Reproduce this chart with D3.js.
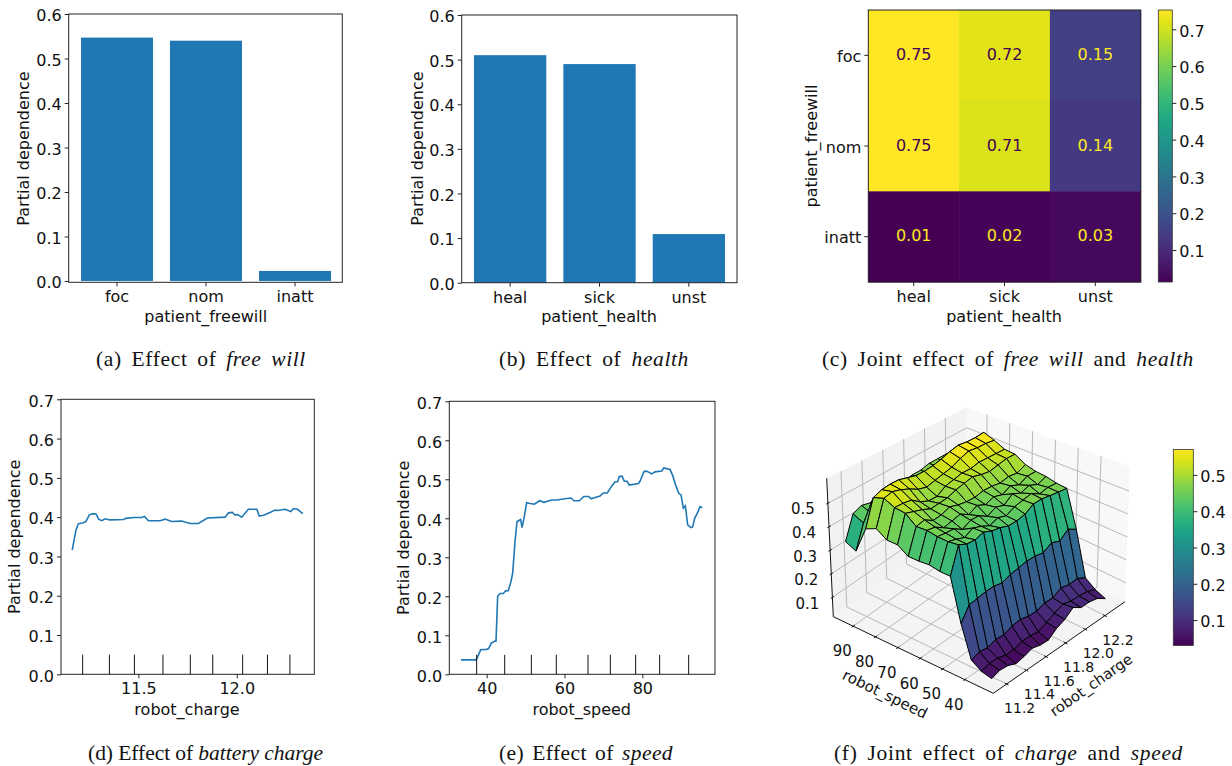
<!DOCTYPE html>
<html lang="en">
<head>
<meta charset="UTF-8">
<title>Partial dependence plots</title>
<style>
  body { margin: 0; background: #fff; }
  svg { display: block; }
  text { font-family: "DejaVu Sans", sans-serif; fill: #111; }
  .tick text { font-size: 16px; font-family: "DejaVu Sans", sans-serif; }
  .tick line, .domain { stroke: #222; }
  .caption { font-family: "Liberation Serif", serif; font-size: 21.5px; }
</style>
</head>
<body>
<div id="chart"></div>
<script src="https://d3js.org/d3.v7.min.js"></script>
<script>
// panel a / b bars
const freewillCats = ["foc", "nom", "inatt"];
const freewillVals = [0.547, 0.54, 0.0225];
const healthCats = ["heal", "sick", "unst"];
const healthVals = [0.51, 0.49, 0.109];

// panel c heatmap, rows are freewill, columns are health
const jointHealth = [
  [0.75, 0.72, 0.15],
  [0.75, 0.71, 0.14],
  [0.013, 0.02, 0.03]
];
const jointLabels = [
  ["0.75", "0.72", "0.15"],
  ["0.75", "0.71", "0.14"],
  ["0.01", "0.02", "0.03"]
];

// panel d
const chargeX = [11.164, 11.183, 11.195, 11.22, 11.234, 11.251, 11.271, 11.285, 11.298, 11.314, 11.331, 11.356, 11.424, 11.437, 11.475, 11.517, 11.531, 11.551, 11.61, 11.636, 11.669, 11.72, 11.763, 11.805, 11.851, 11.941, 11.958, 11.978, 11.992, 12.003, 12.025, 12.059, 12.102, 12.114, 12.136, 12.169, 12.195, 12.207, 12.246, 12.275, 12.288, 12.308, 12.336];
const chargeY = [0.316, 0.367, 0.383, 0.386, 0.389, 0.406, 0.409, 0.408, 0.395, 0.391, 0.396, 0.393, 0.394, 0.397, 0.399, 0.399, 0.402, 0.391, 0.391, 0.395, 0.389, 0.39, 0.384, 0.384, 0.398, 0.4, 0.411, 0.412, 0.405, 0.407, 0.4, 0.42, 0.42, 0.403, 0.405, 0.412, 0.418, 0.417, 0.42, 0.414, 0.422, 0.42, 0.409];
const chargeDeciles = [11.217, 11.353, 11.48, 11.625, 11.764, 11.878, 12.03, 12.156, 12.27];

// panel e
const speedX = [33.4, 37.26, 37.6, 38.46, 40, 40.5, 41.2, 42.14, 42.4, 42.83, 43.43, 44.28, 44.88, 45.57, 46.17, 46.68, 47.28, 47.79, 48.39, 48.74, 49.08, 49.59, 50.28, 51.13, 52.25, 53.62, 54.73, 56.7, 57.99, 60.13, 61.67, 62.44, 63.81, 64.93, 66.21, 66.81, 69.12, 69.98, 71, 72.29, 72.98, 73.66, 74.09, 74.78, 75.37, 76.06, 76.66, 78.97, 79.4, 80.43, 81.11, 82.4, 83.25, 84.97, 85.48, 87.11, 87.79, 88.56, 89.34, 89.94, 90.54, 91.05, 91.65, 92.51, 92.93, 93.45, 94.13, 94.82, 95.42];
const speedY = [0.037, 0.037, 0.043, 0.063, 0.064, 0.066, 0.08, 0.085, 0.085, 0.2, 0.207, 0.207, 0.214, 0.215, 0.235, 0.259, 0.34, 0.391, 0.395, 0.397, 0.376, 0.4, 0.44, 0.438, 0.436, 0.445, 0.441, 0.447, 0.447, 0.45, 0.452, 0.445, 0.445, 0.456, 0.456, 0.45, 0.457, 0.465, 0.465, 0.485, 0.493, 0.494, 0.507, 0.508, 0.495, 0.495, 0.485, 0.489, 0.495, 0.52, 0.521, 0.514, 0.519, 0.521, 0.529, 0.525, 0.51, 0.485, 0.464, 0.46, 0.426, 0.432, 0.383, 0.376, 0.378, 0.4, 0.413, 0.43, 0.427];
const speedDeciles = [37.43, 44.63, 51.48, 57.9, 66.04, 71.78, 78.29, 84.45, 91.9];

// panel f surface, one row per speedGrid value, one column per chargeGrid value
const speedGrid = [30.6, 35.2, 39.7, 44.3, 48.9, 53.5, 58.1, 62.6, 67.2, 71.8, 76.4, 80.9, 85.5, 90.1, 94.6];
const chargeGrid = [11.122, 11.204, 11.286, 11.369, 11.451, 11.533, 11.616, 11.698, 11.78, 11.862, 11.945, 12.027, 12.11, 12.192, 12.275];
const surfaceZ = [
  [0.043, 0.053, 0.05, 0.037, 0.043, 0.053, 0.044, 0.042, 0.066, 0.08, 0.106, 0.084, 0.085, 0.077, 0.053],
  [0.052, 0.06, 0.06, 0.05, 0.05, 0.06, 0.06, 0.055, 0.07, 0.085, 0.1, 0.09, 0.09, 0.085, 0.07],
  [0.075, 0.086, 0.08, 0.091, 0.088, 0.1, 0.105, 0.097, 0.095, 0.107, 0.106, 0.125, 0.117, 0.12, 0.1],
  [0.19, 0.24, 0.246, 0.253, 0.255, 0.249, 0.263, 0.27, 0.278, 0.279, 0.273, 0.295, 0.282, 0.313, 0.292],
  [0.348, 0.448, 0.435, 0.435, 0.448, 0.436, 0.432, 0.422, 0.425, 0.435, 0.46, 0.464, 0.46, 0.457, 0.455],
  [0.352, 0.447, 0.44, 0.43, 0.45, 0.44, 0.425, 0.44, 0.43, 0.45, 0.46, 0.47, 0.45, 0.46, 0.46],
  [0.363, 0.453, 0.45, 0.45, 0.43, 0.45, 0.45, 0.43, 0.45, 0.44, 0.47, 0.455, 0.47, 0.455, 0.472],
  [0.363, 0.464, 0.46, 0.44, 0.45, 0.46, 0.44, 0.46, 0.445, 0.46, 0.45, 0.47, 0.455, 0.475, 0.477],
  [0.367, 0.466, 0.475, 0.455, 0.46, 0.475, 0.465, 0.46, 0.46, 0.47, 0.47, 0.465, 0.475, 0.47, 0.49],
  [0.398, 0.505, 0.495, 0.485, 0.47, 0.475, 0.48, 0.495, 0.505, 0.515, 0.505, 0.5, 0.51, 0.52, 0.52],
  [0.403, 0.515, 0.515, 0.51, 0.485, 0.47, 0.47, 0.495, 0.505, 0.515, 0.515, 0.525, 0.525, 0.525, 0.525],
  [0.435, 0.54, 0.55, 0.54, 0.525, 0.505, 0.495, 0.505, 0.515, 0.525, 0.545, 0.56, 0.555, 0.555, 0.55],
  [0.42, 0.53, 0.545, 0.55, 0.55, 0.54, 0.53, 0.53, 0.535, 0.545, 0.56, 0.57, 0.565, 0.565, 0.57],
  [0.313, 0.41, 0.43, 0.44, 0.45, 0.45, 0.45, 0.45, 0.46, 0.46, 0.47, 0.47, 0.47, 0.47, 0.47],
  [0.337, 0.434, 0.45, 0.44, 0.45, 0.45, 0.45, 0.45, 0.46, 0.46, 0.47, 0.47, 0.47, 0.47, 0.47]
];
const speedTicks3d = [40, 50, 60, 70, 80, 90];
const chargeTicks3d = [11.2, 11.4, 11.6, 11.8, 12.0, 12.2];
const zTicks3d = [0.1, 0.2, 0.3, 0.4, 0.5];

const BLUE = "#1f77b4";
const svg = d3.select("#chart").append("svg").attr("width", 1232).attr("height", 766);

function label(txt, x, y, rotate, size) {
  const t = svg.append("text")
    .attr("text-anchor", "middle")
    .attr("dy", "0.35em")
    .style("font-size", (size || 16) + "px")
    .text(txt);
  t.attr("transform", `translate(${x},${y})` + (rotate ? ` rotate(${rotate})` : ""));
  return t;
}

function styleAxis(g) {
  g.selectAll(".tick line").attr("stroke-width", 1);
  g.selectAll(".domain").remove();
}

// side axes sit a little lower than d3 puts them by default
function styleSide(g) {
  styleAxis(g);
  g.selectAll(".tick text").attr("dy", "0.42em");
}

function frame(box) {
  svg.append("rect")
    .attr("x", box.left).attr("y", box.top)
    .attr("width", box.right - box.left).attr("height", box.bottom - box.top)
    .attr("fill", "none").attr("stroke", "#222").attr("stroke-width", 1);
}

function barPanel(cats, vals, box, yMin, bandRange, yLabelX) {
  const x = d3.scaleBand().domain(cats).range(bandRange).paddingInner(17 / 89).paddingOuter(0);
  const y = d3.scaleLinear().domain([yMin, 0.6]).range([box.bottom, box.top]);
  svg.append("g").selectAll("rect").data(cats).join("rect")
    .attr("x", d => x(d))
    .attr("width", x.bandwidth())
    .attr("y", (d, i) => y(vals[i]))
    .attr("height", (d, i) => y(0) - y(vals[i]))
    .attr("fill", BLUE);
  frame(box);
  svg.append("g").attr("transform", `translate(${box.left},0)`)
    .call(d3.axisLeft(y).tickValues(d3.range(0, 7).map(d => d / 10)).tickFormat(d3.format(".1f")).tickSize(4).tickPadding(3))
    .call(styleSide);
  svg.append("g").attr("transform", `translate(0,${box.bottom})`)
    .call(d3.axisBottom(x).tickSize(4).tickPadding(4.5))
    .call(styleAxis);
  label("Partial dependence", yLabelX, 148.5, -90);
}

barPanel(freewillCats, freewillVals, { left: 68.7, right: 342.3, top: 14, bottom: 282.3 }, -0.003, [81, 331], 23);
label("patient_freewill", 205.7, 316);
barPanel(healthCats, healthVals, { left: 461.7, right: 737, top: 15, bottom: 282.7 }, 0, [474, 725], 417);
label("patient_health", 599, 316);

// heatmap
const heatBox = { left: 868.3, right: 1140.7, top: 10, bottom: 282 };
const heatX = d3.scaleBand().domain(healthCats).range([heatBox.left, heatBox.right]);
const heatY = d3.scaleBand().domain(freewillCats).range([heatBox.top, heatBox.bottom]);
const heatColor = d3.scaleSequential(d3.interpolateViridis).domain([0.013, 0.7525]);
freewillCats.forEach((rowName, r) => {
  healthCats.forEach((colName, c) => {
    const v = jointHealth[r][c];
    svg.append("rect")
      .attr("x", heatX(colName)).attr("y", heatY(rowName))
      .attr("width", heatX.bandwidth() + 0.5).attr("height", heatY.bandwidth() + 0.5)
      .attr("fill", heatColor(v));
    label(jointLabels[r][c], heatX(colName) + heatX.bandwidth() / 2, heatY(rowName) + heatY.bandwidth() / 2 - 1)
      .style("fill", v > 0.38 ? "#440154" : "#fde725");
  });
});
frame(heatBox);
svg.append("g").attr("transform", `translate(${heatBox.left},0)`)
  .call(d3.axisLeft(heatY).tickSize(4).tickPadding(3)).call(styleSide);
svg.append("g").attr("transform", `translate(0,${heatBox.bottom})`)
  .call(d3.axisBottom(heatX).tickSize(4).tickPadding(4.5)).call(styleAxis);
label("patient_health", 1004, 316);
label("patient_freewill", 811, 146, -90);

// colorbars
const defs = svg.append("defs");
function colorbar(id, domain, box, ticks) {
  const grad = defs.append("linearGradient").attr("id", id)
    .attr("x1", 0).attr("x2", 0).attr("y1", 1).attr("y2", 0);
  d3.range(0, 21).forEach(i => {
    grad.append("stop").attr("offset", i / 20).attr("stop-color", d3.interpolateViridis(i / 20));
  });
  svg.append("rect")
    .attr("x", box.left).attr("y", box.top)
    .attr("width", box.right - box.left).attr("height", box.bottom - box.top)
    .attr("fill", `url(#${id})`).attr("stroke", "#333").attr("stroke-width", 0.8);
  const y = d3.scaleLinear().domain(domain).range([box.bottom, box.top]);
  svg.append("g").attr("transform", `translate(${box.right},0)`)
    .call(d3.axisRight(y).tickValues(ticks).tickFormat(d3.format(".1f")).tickSize(4).tickPadding(3))
    .call(styleSide);
}
colorbar("cbHeat", [0.013, 0.7525], { left: 1158.3, right: 1172.3, top: 10, bottom: 282 }, [0.1, 0.2, 0.3, 0.4, 0.5, 0.6, 0.7]);
colorbar("cbSurf", [0.03, 0.57], { left: 1173.3, right: 1193.3, top: 449.5, bottom: 645.5 }, [0.1, 0.2, 0.3, 0.4, 0.5]);

// line panels
function linePanel(xs, ys, deciles, box, xDomain, xTicks, fmt, yLabelX, xLabel, xLabelX) {
  const x = d3.scaleLinear().domain(xDomain).range([box.left, box.right]);
  const y = d3.scaleLinear().domain([0, 0.7]).range([box.bottom, box.top]);
  const line = d3.line().x(d => x(d[0])).y(d => y(d[1]));
  svg.append("path").datum(d3.zip(xs, ys)).attr("d", line)
    .attr("fill", "none").attr("stroke", BLUE).attr("stroke-width", 1.6);
  svg.append("g").selectAll("line").data(deciles).join("line")
    .attr("x1", d => x(d)).attr("x2", d => x(d))
    .attr("y1", y(0)).attr("y2", y(0.05))
    .attr("stroke", "#111").attr("stroke-width", 1);
  frame(box);
  svg.append("g").attr("transform", `translate(${box.left},0)`)
    .call(d3.axisLeft(y).tickValues(d3.range(0, 8).map(d => d / 10)).tickFormat(d3.format(".1f")).tickSize(4).tickPadding(3))
    .call(styleSide);
  svg.append("g").attr("transform", `translate(0,${box.bottom})`)
    .call(d3.axisBottom(x).tickValues(xTicks).tickFormat(fmt).tickSize(4).tickPadding(4.5))
    .call(styleAxis);
  label("Partial dependence", yLabelX, (box.top + box.bottom) / 2, -90);
  label(xLabel, xLabelX, 709);
}
linePanel(chargeX, chargeY, chargeDeciles, { left: 61, right: 314.3, top: 399.3, bottom: 674.3 }, [11.107, 12.394], [11.5, 12.0], d3.format(".1f"), 14, "robot_charge", 187);
linePanel(speedX, speedY, speedDeciles, { left: 449.3, right: 715, top: 401.3, bottom: 674.3 }, [30.4, 98.67], [40, 60, 80], d3.format("d"), 403, "robot_speed", 581.7);

// 3d surface, cube corners as seen on the page, a = speed, b = charge, c = height
const corners = {
  B0: [993.3, 693.3], L0: [833.3, 616.7], R0: [1125, 601.7], K0: [966.7, 520.7],
  B1: [995, 521.7], L1: [826.7, 478.3], R1: [1130, 466.7], K1: [966.7, 407.3]
};
const speedNorm = d3.scaleLinear().domain([27.3, 98.9]).range([0, 1]);
const chargeNorm = d3.scaleLinear().domain([11.064, 12.404]).range([0, 1]);
const zNorm = d3.scaleLinear().domain([0.018, 0.606]).range([0, 1]);
function project(a, b, c) {
  const at = k => {
    const low = (1 - a) * (1 - b) * corners.B0[k] + a * (1 - b) * corners.L0[k] + (1 - a) * b * corners.R0[k] + a * b * corners.K0[k];
    const high = (1 - a) * (1 - b) * corners.B1[k] + a * (1 - b) * corners.L1[k] + (1 - a) * b * corners.R1[k] + a * b * corners.K1[k];
    return low * (1 - c) + high * c;
  };
  return [at(0), at(1)];
}
const poly = pts => pts.map(p => p.map(v => v.toFixed(2)).join(",")).join(" ");
const walls = svg.append("g");
walls.append("polygon").attr("points", poly([project(1, 0, 0), project(1, 1, 0), project(1, 1, 1), project(1, 0, 1)])).attr("fill", "#f2f2f2");
walls.append("polygon").attr("points", poly([project(1, 1, 0), project(0, 1, 0), project(0, 1, 1), project(1, 1, 1)])).attr("fill", "#f8f8f8");
walls.append("polygon").attr("points", poly([project(1, 0, 0), project(0, 0, 0), project(0, 1, 0), project(1, 1, 0)])).attr("fill", "#f4f4f4");

function seg(g, p, q, color, w) {
  g.append("line").attr("x1", p[0]).attr("y1", p[1]).attr("x2", q[0]).attr("y2", q[1])
    .attr("stroke", color).attr("stroke-width", w);
}
const GRID = "#b8b8b8";
speedTicks3d.forEach(s => {
  const a = speedNorm(s);
  seg(walls, project(a, 0, 0), project(a, 1, 0), GRID, 1);
  seg(walls, project(a, 1, 0), project(a, 1, 1), GRID, 1);
});
chargeTicks3d.forEach(s => {
  const b = chargeNorm(s);
  seg(walls, project(0, b, 0), project(1, b, 0), GRID, 1);
  seg(walls, project(1, b, 0), project(1, b, 1), GRID, 1);
});
zTicks3d.forEach(z => {
  const c = zNorm(z);
  seg(walls, project(1, 0, c), project(1, 1, c), GRID, 1);
  seg(walls, project(1, 1, c), project(0, 1, c), GRID, 1);
});
seg(walls, project(1, 0, 0), project(0, 0, 0), "#111", 1);
seg(walls, project(0, 0, 0), project(0, 1, 0), "#111", 1);
seg(walls, project(1, 0, 0), project(1, 0, 1), "#111", 1);

speedTicks3d.forEach(s => {
  const a = speedNorm(s);
  seg(walls, project(a, -0.012, 0), project(a, 0.012, 0), "#111", 1);
  const p = project(a, 0, 0);
  label(String(s), p[0] - 11, p[1] + 25, 0, 15);
});
chargeTicks3d.forEach(s => {
  const b = chargeNorm(s);
  seg(walls, project(-0.012, b, 0), project(0.012, b, 0), "#111", 1);
  const p = project(0, b, 0);
  label(s.toFixed(1), p[0] + 13, p[1] + 24, 0, 14);
});
zTicks3d.forEach(z => {
  const c = zNorm(z);
  seg(walls, project(1, -0.012, c), project(1, 0.012, c), "#111", 1);
  const p = project(1, 0, c);
  label(z.toFixed(1), p[0] - 25, p[1] + 6, 0, 15);
});
label("robot_speed", 885, 694, 26, 15);
label("robot_charge", 1091, 685, -35, 14.7);

// far cells first so the nearer ones cover them
const surfColor = d3.scaleSequential(d3.interpolateViridis).domain([0.03, 0.57]);
const cells = [];
for (let i = speedGrid.length - 2; i >= 0; i--) {
  for (let j = chargeGrid.length - 2; j >= 0; j--) {
    cells.push([i, j]);
  }
}
const pt = (i, j) => project(speedNorm(speedGrid[i]), chargeNorm(chargeGrid[j]), zNorm(surfaceZ[i][j]));
svg.append("g").selectAll("polygon").data(cells).join("polygon")
  .attr("points", ([i, j]) => poly([pt(i, j), pt(i + 1, j), pt(i + 1, j + 1), pt(i, j + 1)]))
  .attr("fill", ([i, j]) => surfColor(d3.mean([surfaceZ[i][j], surfaceZ[i + 1][j], surfaceZ[i + 1][j + 1], surfaceZ[i][j + 1]])))
  .attr("stroke", "#000").attr("stroke-width", 1).attr("stroke-linejoin", "round");

// captions, spare width goes half to the letters and half to the word gaps
function caption(parts, left, y, width) {
  const t = svg.append("text").attr("class", "caption").attr("x", left).attr("y", y);
  parts.forEach(p => {
    t.append("tspan").style("font-style", p[1] ? "italic" : "normal").text(p[0]);
  });
  const str = parts.map(p => p[0]).join("");
  const gaps = str.split(" ").length - 1;
  const spare = width - t.node().getComputedTextLength();
  t.style("letter-spacing", spare / 2 / str.length + "px");
  t.style("word-spacing", spare / 2 / gaps + "px");
}
caption([["(a) Effect of ", 0], ["free will", 1]], 96, 366, 210);
caption([["(b) Effect of ", 0], ["health", 1]], 499, 366, 190);
caption([["(c) Joint effect of ", 0], ["free will", 1], [" and ", 0], ["health", 1]], 822, 366, 372);
caption([["(d) Effect of ", 0], ["battery charge", 1]], 88, 760, 235);
caption([["(e) Effect of ", 0], ["speed", 1]], 499, 760, 174);
caption([["(f) Joint effect of ", 0], ["charge", 1], [" and ", 0], ["speed", 1]], 834, 760, 349);
</script>
</body>
</html>
